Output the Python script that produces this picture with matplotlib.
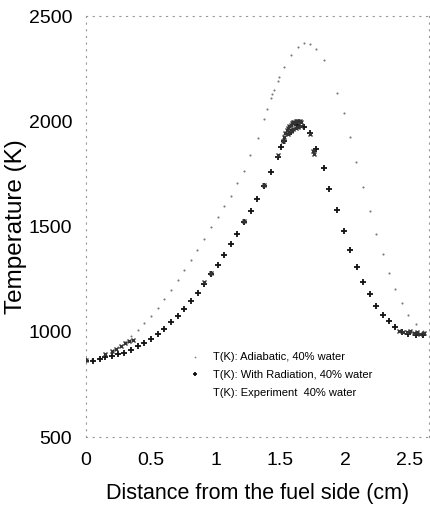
import matplotlib
matplotlib.use("Agg")
import matplotlib.pyplot as plt
from matplotlib import font_manager

# ---- data ----
x_adiabatic = [0.0, 0.05, 0.10, 0.15, 0.20, 0.25, 0.30, 0.35, 0.40, 0.45, 0.50, 0.553,
               0.605, 0.656, 0.708, 0.76, 0.81, 0.86, 0.911, 0.963, 1.017, 1.068, 1.117,
               1.168, 1.22, 1.27, 1.33, 1.375, 1.40, 1.43, 1.44, 1.45, 1.48, 1.49, 1.53,
               1.58, 1.635, 1.68, 1.73, 1.78, 1.835, 1.94, 1.99, 2.036, 2.087, 2.14, 2.19,
               2.24, 2.29, 2.34, 2.39, 2.44, 2.49, 2.55, 2.60]
t_adiabatic = [865, 870, 878, 890, 905, 926, 950, 982, 1009, 1041, 1077, 1114,
               1157, 1200, 1248, 1296, 1343, 1391, 1440, 1496, 1545, 1598, 1647,
               1706, 1766, 1840, 1922, 2013, 2061, 2109, 2132, 2151, 2194, 2210, 2258,
               2314, 2352, 2371, 2368, 2342, 2291, 2136, 2038, 1924, 1805, 1687, 1574,
               1466, 1369, 1281, 1205, 1136, 1079, 1038, 1005]

x_radiation = [0.0, 0.056, 0.108, 0.147, 0.198, 0.25, 0.296, 0.347, 0.399, 0.45, 0.50,
               0.553, 0.605, 0.656, 0.708, 0.76, 0.81, 0.862, 0.913, 0.965, 1.017, 1.066,
               1.117, 1.168, 1.223, 1.272, 1.323, 1.375, 1.426, 1.48, 1.506, 1.53, 1.58,
               1.63, 1.68, 1.73, 1.78, 1.84, 1.88, 1.94, 1.99, 2.04, 2.09, 2.14, 2.19,
               2.24, 2.29, 2.34, 2.39, 2.44, 2.49, 2.55, 2.60]
t_radiation = [861, 863, 871, 882, 887, 895, 902, 914, 931, 945, 968,
               990, 1014, 1046, 1074, 1108, 1146, 1184, 1229, 1273, 1320, 1367,
               1418, 1467, 1521, 1573, 1630, 1692, 1759, 1833, 1878, 1908, 1950,
               1985, 1975, 1945, 1870, 1778, 1678, 1577, 1480, 1391, 1308, 1237, 1178,
               1125, 1082, 1050, 1025, 1001, 990, 985, 987]

x_experiment = [0.0, 0.15, 0.20, 0.23, 0.27, 0.30, 0.33, 0.36,
                0.91, 0.965, 1.22, 1.375, 1.48,
                1.52, 1.53, 1.54, 1.55, 1.56, 1.57, 1.58, 1.59, 1.60, 1.61, 1.62, 1.63,
                1.64, 1.65, 1.66, 1.56, 1.58, 1.60, 1.62, 1.64, 1.66,
                1.73, 1.75, 1.76,
                2.42, 2.45, 2.48, 2.50, 2.53, 2.56, 2.58, 2.61]
t_experiment = [868, 895, 910, 920, 935, 945, 955, 962,
                1235, 1278, 1525, 1700, 1840,
                1905, 1925, 1945, 1960, 1970, 1978, 1985, 1990, 1995, 1998, 2000, 2002,
                2003, 2000, 1995, 1940, 1955, 1965, 1970, 1975, 1978,
                1941, 1860, 1845,
                1005, 1000, 998, 1002, 995, 1000, 990, 995]

x_ticks = [0, 0.5, 1, 1.5, 2, 2.5]
x_tick_labels = ["0", "0.5", "1", "1.5", "2", "2.5"]
y_ticks = [500, 1000, 1500, 2000, 2500]
y_tick_labels = ["500", "1000", "1500", "2000", "2500"]

label_adiabatic = "T(K): Adiabatic, 40% water"
label_radiation = "T(K): With Radiation, 40% water"
label_experiment = "T(K): Experiment  40% water"

# ---- style ----
names = {f.name for f in font_manager.fontManager.ttflist}
fam = [n for n in ["Liberation Sans Narrow", "Liberation Sans", "DejaVu Sans"] if n in names]
plt.rcParams["font.family"] = fam

fig = plt.figure(figsize=(4.30, 5.21), dpi=100)
ax = fig.add_axes([0.2, 0.161, 0.798, 0.808])

ax.plot(x_adiabatic, t_adiabatic, linestyle="none", marker="o", markersize=1.5,
        color="#777777", markeredgewidth=0, label=label_adiabatic)
ax.plot(x_radiation, t_radiation, linestyle="none", marker="+", markersize=4,
        markeredgewidth=1.3, color="#111111", label=label_radiation)
ax.plot(x_experiment, t_experiment, linestyle="none", marker="x", markersize=3,
        markeredgewidth=1.0, color="#333333", label=label_experiment)

ax.set_xlim(0, 2.65)
ax.set_ylim(500, 2500)
ax.set_xticks(x_ticks)
ax.set_xticklabels(x_tick_labels)
ax.set_yticks(y_ticks)
ax.set_yticklabels(y_tick_labels)
ax.tick_params(length=0, labelsize=14)
ax.tick_params(axis="x", pad=11)
ax.tick_params(axis="y", pad=10)

for s in ax.spines.values():
    s.set_linestyle((0, (1, 5)))
    s.set_color("#999999")
    s.set_linewidth(0.8)

ax.set_xlabel("Distance from the fuel side (cm)", fontsize=15.5, labelpad=10)
ax.set_ylabel("Temperature (K)", fontsize=17.5)
ax.yaxis.set_label_coords(-0.172, 0.5)

leg = ax.legend(loc="upper left", bbox_to_anchor=(0.27, 0.225), frameon=False,
                fontsize=8, handlelength=1.2, handletextpad=1.0, labelspacing=0.7,
                markerscale=0.8)
leg.legend_handles[2].set_visible(False)

fig.savefig("out.png", dpi=100)
